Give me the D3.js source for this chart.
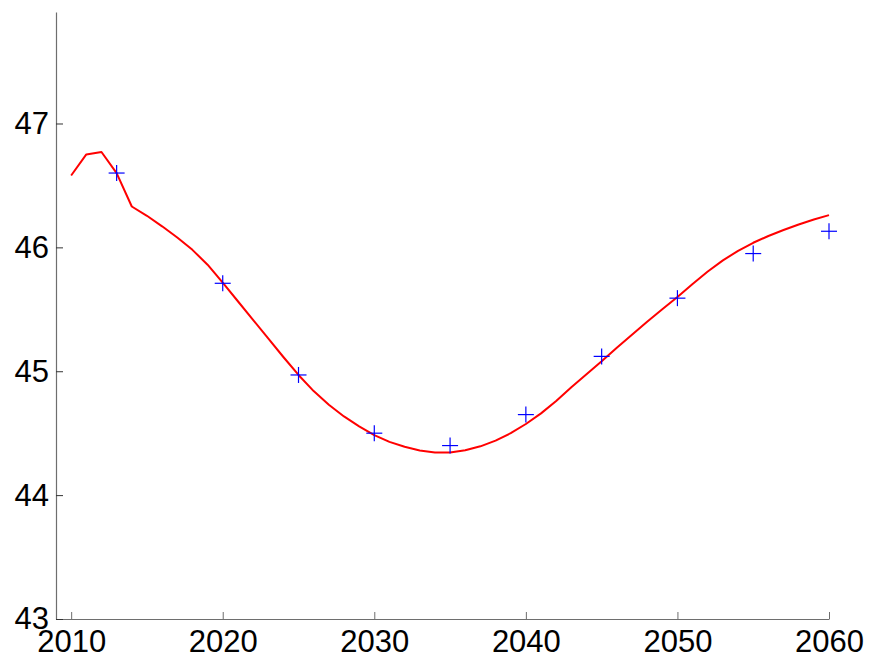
<!DOCTYPE html>
<html>
<head>
<meta charset="utf-8">
<script src="https://cdn.jsdelivr.net/npm/d3@7"></script>
<style>
  html, body { margin: 0; padding: 0; background: #fff; }
  svg { display: block; }
  .tick text { font-family: "Liberation Sans", Arial, sans-serif; font-size: 31px; fill: #000; }
</style>
</head>
<body>
<svg id="chart" width="871" height="660"></svg>
<script>
// Yearly projection curve (2010-2060)
const years = d3.range(2010, 2061);
const curveValues = [
  46.58, 46.75, 46.77, 46.60, 46.33, 46.255, 46.17, 46.08, 45.98, 45.86,
  45.715, 45.565, 45.415, 45.265, 45.115, 44.97, 44.84, 44.73, 44.635, 44.555,
  44.485, 44.43, 44.39, 44.36, 44.345, 44.345, 44.362, 44.394, 44.44, 44.50,
  44.574, 44.66, 44.76, 44.87, 44.975, 45.08, 45.19, 45.295, 45.40, 45.50,
  45.60, 45.705, 45.805, 45.895, 45.972, 46.037, 46.092, 46.14, 46.185, 46.225,
  46.26
];

// Observed / reference points
const markerYears = [2013, 2020, 2025, 2030, 2035, 2040, 2045, 2050, 2055, 2060];
const markerValues = [46.60, 45.71, 44.97, 44.50, 44.40, 44.65, 45.12, 45.59, 45.95, 46.13];

// Axis ticks
const xTicks = [2010, 2020, 2030, 2040, 2050, 2060];
const yTicks = [43, 44, 45, 46, 47];

(function draw() {
  const svg = d3.select("#chart");
  const plotLeft = 56, plotRight = 829, plotTop = 12, plotBottom = 619;

  const x = d3.scaleLinear().domain([2009, 2060]).range([plotLeft, plotRight]);
  const y = d3.scaleLinear().domain([43, 47.9]).range([plotBottom, plotTop]);

  // X axis: ticks point into the plot
  const xAxis = svg.append("g")
    .attr("transform", `translate(0,${plotBottom})`)
    .call(d3.axisBottom(x).tickValues(xTicks).tickFormat(d3.format("d"))
      .tickSizeInner(-7).tickSizeOuter(0).tickPadding(11));
  xAxis.select(".domain").attr("stroke", "#6e6e6e").attr("stroke-width", 1.2);
  xAxis.selectAll(".tick line").attr("stroke", "#6e6e6e");
  xAxis.selectAll(".tick text").attr("dy", "0.71em");

  // Y axis
  const yAxis = svg.append("g")
    .attr("transform", `translate(${plotLeft},0)`)
    .call(d3.axisLeft(y).tickValues(yTicks).tickFormat(d3.format("d"))
      .tickSizeInner(-7).tickSizeOuter(0).tickPadding(7));
  yAxis.select(".domain").attr("stroke", "#6e6e6e").attr("stroke-width", 1.2);
  yAxis.selectAll(".tick line").attr("stroke", "#333");

  // Projection curve
  const line = d3.line()
    .x((d, i) => x(years[i]))
    .y(d => y(d));
  svg.append("path")
    .datum(curveValues)
    .attr("d", line)
    .attr("fill", "none")
    .attr("stroke", "#ff0000")
    .attr("stroke-width", 2)
    .attr("stroke-linejoin", "round");

  // Plus markers
  const half = 8;
  const marks = svg.append("g").attr("stroke", "#0000ff").attr("stroke-width", 1.2);
  markerYears.forEach((yr, i) => {
    const cx = x(yr), cy = y(markerValues[i]);
    marks.append("line").attr("x1", cx - half).attr("x2", cx + half).attr("y1", cy).attr("y2", cy);
    marks.append("line").attr("x1", cx).attr("x2", cx).attr("y1", cy - half).attr("y2", cy + half);
  });
})();
</script>
</body>
</html>
